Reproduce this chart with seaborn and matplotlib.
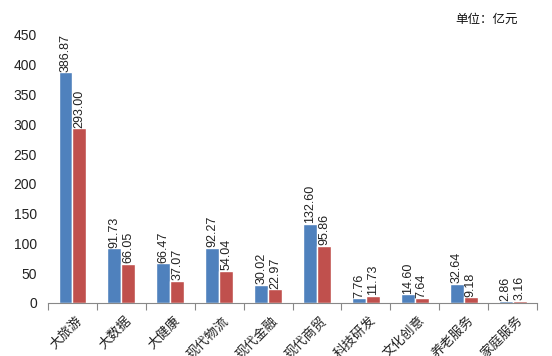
import numpy as np
import pandas as pd
import matplotlib
matplotlib.use("Agg")
import matplotlib.pyplot as plt
import seaborn as sns

categories = ["大旅游", "大数据", "大健康", "现代物流", "现代金融", "现代商贸", "科技研发", "文化创意", "养老服务", "家庭服务"]
series_a = [386.87, 91.73, 66.47, 92.27, 30.02, 132.60, 7.76, 14.60, 32.64, 2.86]
series_b = [293.00, 66.05, 37.07, 54.04, 22.97, 95.86, 11.73, 7.64, 9.18, 3.16]
series_names = ["系列1", "系列2"]
yticks = [0, 50, 100, 150, 200, 250, 300, 350, 400, 450]

sns.set_theme(style="white")
plt.rcParams['font.family'] = ['Noto Sans CJK SC', 'DejaVu Sans']

df = pd.DataFrame({
    "cat": categories * 2,
    "val": series_a + series_b,
    "series": [series_names[0]] * len(categories) + [series_names[1]] * len(categories),
})

fig = plt.figure(figsize=(5.52, 3.56), dpi=100)
ax = fig.add_axes([0.087, 0.149, 0.886, 0.753])
sns.barplot(data=df, x="cat", y="val", hue="series", palette=["#4F81BD", "#C0504D"],
            width=0.57, saturation=1, ax=ax, legend=False, errorbar=None)

ax.set_ylim(0, 450)
ax.set_xlim(-0.5, len(categories) - 0.5)
ax.set_yticks(yticks)
ax.set_yticklabels([str(t) for t in yticks], fontsize=10, color="#222222", family=["Liberation Sans"])
ax.tick_params(axis="y", length=0, pad=8)
ax.set_xlabel("")
ax.set_ylabel("")

ax.set_xticks(np.arange(len(categories)) + 0.06)
ax.set_xticklabels(categories, rotation=45, ha="right", rotation_mode="anchor", fontsize=9.5, color="#222222")
ax.tick_params(axis="x", which="major", length=0, pad=8)
ax.set_xticks(np.arange(-0.5, len(categories), 1.0), minor=True)
ax.tick_params(axis="x", which="minor", length=5, color="#888888", width=0.8, direction="out")
ax.tick_params(axis="x", which="minor", bottom=True)

for s in ["top", "right", "left"]:
    ax.spines[s].set_visible(False)
ax.spines["bottom"].set_color("#888888")
ax.spines["bottom"].set_linewidth(0.8)

for cont in ax.containers:
    for bar in cont:
        h = bar.get_height()
        ax.text(bar.get_x() + bar.get_width() / 2, h + 1, f"{h:.2f}", rotation=90,
                ha="center", va="bottom", fontsize=9, color="#222222", family=["Liberation Sans"])

fig.text(0.825, 0.935, "单位：亿元", fontsize=9, color="#111111")

fig.savefig("out.png", dpi=100)
